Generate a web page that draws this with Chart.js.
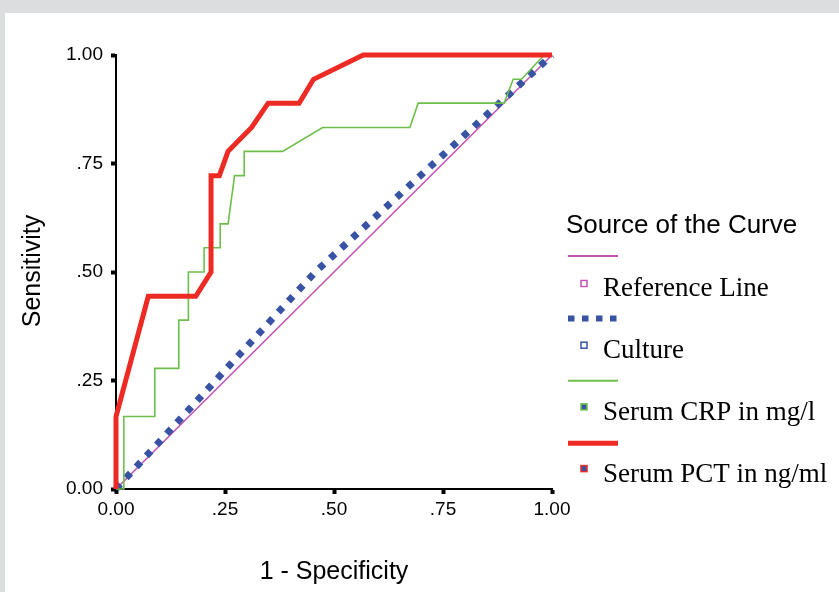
<!DOCTYPE html>
<html>
<head>
<meta charset="utf-8">
<script src="https://cdn.jsdelivr.net/npm/chart.js@4/dist/chart.umd.min.js"></script>
<style>
  html, body { margin: 0; padding: 0; background: #dcdddf; }
  #wrap { width: 839px; height: 592px; }
</style>
</head>
<body>
<div id="wrap"><canvas id="roc" width="839" height="592"></canvas></div>
<script>
// tick labels (SPSS style)
var xTickLabels = ['0.00', '.25', '.50', '.75', '1.00'];
var yTickLabels = ['0.00', '.25', '.50', '.75', '1.00'];

// series names as in the legend
var seriesNames = ['Reference Line', 'Culture', 'Serum CRP in mg/l', 'Serum PCT in ng/ml'];

// ROC points: 1 - specificity (x) / sensitivity (y)
var refX = [0, 1];
var refY = [0, 1];

var cultureX = [0, 0.457, 1];
var cultureY = [0, 0.5, 1];

var crpX = [0, 0.018, 0.018, 0.089, 0.089, 0.144, 0.144, 0.166, 0.166, 0.202, 0.202, 0.239, 0.239, 0.257, 0.272, 0.294, 0.294, 0.382, 0.474, 0.674, 0.693, 0.890, 0.911, 0.930, 0.982, 1];
var crpY = [0, 0, 0.167, 0.167, 0.278, 0.278, 0.389, 0.389, 0.500, 0.500, 0.556, 0.556, 0.611, 0.611, 0.722, 0.722, 0.778, 0.778, 0.833, 0.833, 0.889, 0.889, 0.944, 0.944, 1, 1];

var pctX = [0, 0, 0.074, 0.183, 0.218, 0.218, 0.237, 0.257, 0.311, 0.349, 0.420, 0.453, 0.567, 1];
var pctY = [0, 0.167, 0.444, 0.444, 0.500, 0.722, 0.722, 0.778, 0.833, 0.889, 0.889, 0.944, 1, 1];

var colors = {
    ref: '#c254b3',
    culture: '#3953a4',
    crp: '#6cc04a',
    pct: '#ee2a24'
};

function toPoints(xs, ys) {
    return xs.map(function (x, i) { return { x: x, y: ys[i] }; });
}

var sansFont = "'Liberation Sans', Arial, sans-serif";
var serifFont = "'Liberation Serif', 'Times New Roman', serif";

// gray page with white panel
var backgroundPlugin = {
    id: 'panel',
    beforeDraw: function (chart) {
        var ctx = chart.ctx;
        ctx.save();
        ctx.fillStyle = '#dcdddf';
        ctx.fillRect(0, 0, chart.width, chart.height);
        ctx.fillStyle = '#ffffff';
        ctx.fillRect(5, 13, chart.width - 5, chart.height - 13);
        ctx.restore();
    }
};

// axis titles + the legend box on the right
var legendPlugin = {
    id: 'spssLegend',
    afterDraw: function (chart) {
        var ctx = chart.ctx;
        ctx.save();
        ctx.fillStyle = '#000';

        // axis titles
        ctx.font = '25px ' + sansFont;
        ctx.textAlign = 'center';
        ctx.textBaseline = 'middle';
        ctx.fillText('1 - Specificity', 334, 572);
        ctx.save();
        ctx.translate(33, 271);
        ctx.rotate(-Math.PI / 2);
        ctx.fillText('Sensitivity', 0, 0);
        ctx.restore();

        // legend title
        ctx.textAlign = 'left';
        ctx.font = '26px ' + sansFont;
        ctx.fillText('Source of the Curve', 566, 226);

        var items = chart.data.datasets.slice().sort(function (a, b) { return a.legendIndex - b.legendIndex; });
        items.forEach(function (ds, i) {
            var ly = 256 + i * 62.4;
            ctx.save();
            ctx.strokeStyle = ds.borderColor;
            ctx.lineWidth = ds.legendWidth;
            ctx.setLineDash(ds.legendDash || []);
            ctx.beginPath();
            ctx.moveTo(568, ly);
            ctx.lineTo(618, ly);
            ctx.stroke();
            ctx.restore();

            // marker square
            var my = 283.5 + i * 61.7;
            ctx.fillStyle = ds.markerFill;
            ctx.fillRect(581, my - 3, 6, 6);
            ctx.strokeStyle = ds.borderColor;
            ctx.lineWidth = 1.5;
            ctx.strokeRect(581, my - 3, 6, 6);

            ctx.fillStyle = '#000';
            ctx.font = '27px ' + serifFont;
            ctx.textBaseline = 'alphabetic';
            ctx.fillText(ds.label, 603, 296 + i * 62);
            ctx.textBaseline = 'middle';
        });
        ctx.restore();
    }
};

var ctx = document.getElementById('roc').getContext('2d');

var chart = new Chart(ctx, {
    type: 'scatter',
    data: {
        datasets: [
            {
                label: seriesNames[3], data: toPoints(pctX, pctY),
                borderColor: colors.pct, borderWidth: 5, order: 0,
                legendIndex: 3, legendWidth: 5, markerFill: colors.culture
            },
            {
                label: seriesNames[2], data: toPoints(crpX, crpY),
                borderColor: colors.crp, borderWidth: 1.6, order: 1,
                legendIndex: 2, legendWidth: 2, markerFill: colors.culture
            },
            {
                label: seriesNames[1], data: toPoints(cultureX, cultureY),
                borderColor: colors.culture, borderWidth: 7, borderDash: [6.5, 8.5], order: 2,
                legendIndex: 1, legendWidth: 6, legendDash: [6.5, 7.5], markerFill: '#ffffff'
            },
            {
                label: seriesNames[0], data: toPoints(refX, refY),
                borderColor: colors.ref, borderWidth: 1.6, order: 3,
                legendIndex: 0, legendWidth: 2, markerFill: '#ffffff'
            }
        ]
    },
    options: {
        responsive: false,
        animation: false,
        devicePixelRatio: 1,
        showLine: true,
        elements: {
            point: { radius: 0, hoverRadius: 0 },
            line: { tension: 0, borderCapStyle: 'butt', borderJoinStyle: 'miter', fill: false }
        },
        datasets: { scatter: { clip: false } },
        layout: { padding: { left: 16, right: 287, top: 55, bottom: 63 } },
        plugins: {
            legend: { display: false },
            tooltip: { enabled: false }
        },
        scales: {
            x: {
                type: 'linear', min: 0, max: 1,
                ticks: {
                    stepSize: 0.25,
                    padding: 4,
                    maxRotation: 0,
                    autoSkip: false,
                    color: '#000',
                    font: { family: sansFont, size: 19 },
                    callback: function (value, index) { return xTickLabels[index]; }
                },
                grid: { display: true, drawOnChartArea: false, drawTicks: true, tickLength: 5, tickWidth: 4, tickColor: '#000' },
                border: { display: true, color: '#000', width: 2 },
                afterFit: function (scale) { scale.height = 40; }
            },
            y: {
                type: 'linear', min: 0, max: 1,
                ticks: {
                    stepSize: 0.25,
                    padding: 8,
                    autoSkip: false,
                    color: '#000',
                    font: { family: sansFont, size: 19 },
                    callback: function (value, index) { return yTickLabels[index]; }
                },
                grid: { display: true, drawOnChartArea: false, drawTicks: true, tickLength: 5, tickWidth: 4, tickColor: '#000' },
                border: { display: true, color: '#000', width: 2 },
                afterFit: function (scale) { scale.width = 100; }
            }
        }
    },
    plugins: [backgroundPlugin, legendPlugin]
});
</script>
</body>
</html>
